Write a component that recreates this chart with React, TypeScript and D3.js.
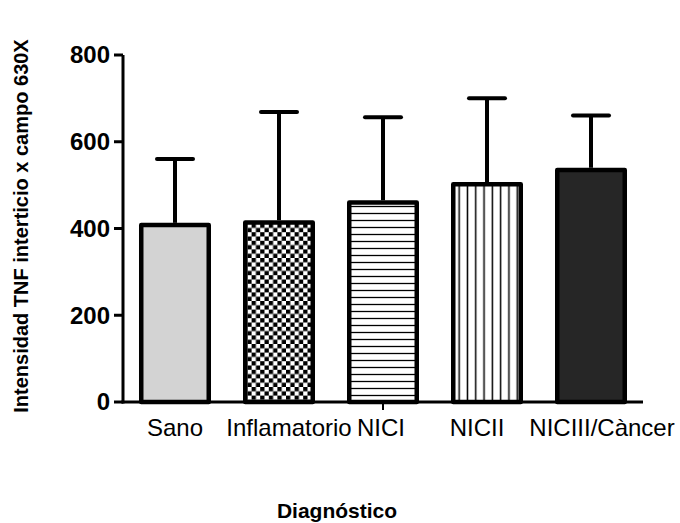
import React from "react";
import * as d3 from "d3";

const categories = ["Sano", "Inflamatorio", "NICI", "NICII", "NICIII/Càncer"];
const means = [413, 419, 465, 507, 540];
const errorTops = [565, 673, 661, 705, 665];
const fills = ["#d3d3d3", "url(#checker)", "url(#hlines)", "url(#vlines)", "#262626"];
const yTicks = [0, 200, 400, 600, 800];
const tickedCategories = ["NICI"];

const W = 680;
const H = 523;
const left = 123, right = 643, top = 55, bottom = 402;
const barStroke = 4.5;
// label nudges as Prism placed them (px)
const labelShift = [0, 10, -2, -10, 11];

export default function App() {
  const x = d3
    .scaleBand<string>()
    .domain(categories)
    .range([left, right])
    .paddingInner(0.3077)
    .paddingOuter(0.1538);
  const y = d3.scaleLinear().domain([0, 800]).range([bottom, top]);
  const bw = x.bandwidth();

  const font = "'Liberation Sans', Arial, Helvetica, sans-serif";

  return (
    <svg
      width={W}
      height={H}
      style={{ position: "absolute", left: 0, top: 0, background: "#fff" }}
      fontFamily={font}
    >
      <defs>
        <pattern id="checker" patternUnits="userSpaceOnUse" width={8.6} height={8.6} x={243} y={0}>
          <rect width={8.6} height={8.6} fill="#fff" />
          <rect width={4.3} height={4.3} fill="#000" />
          <rect x={4.3} y={4.3} width={4.3} height={4.3} fill="#000" />
        </pattern>
        <pattern id="hlines" patternUnits="userSpaceOnUse" width={10} height={7}>
          <rect width={10} height={7} fill="#fff" />
          <line x1={0} x2={10} y1={3.5} y2={3.5} stroke="#000" strokeWidth={1.3} />
        </pattern>
        <pattern id="vlines" patternUnits="userSpaceOnUse" width={8.3} height={10} x={455}>
          <rect width={8.3} height={10} fill="#fff" />
          <line x1={4.15} x2={4.15} y1={0} y2={10} stroke="#000" strokeWidth={1.5} />
        </pattern>
      </defs>

      {/* error bars */}
      {categories.map((c, i) => {
        const cx = (x(c) as number) + bw / 2;
        const capY = y(errorTops[i]) + 2;
        return (
          <g key={"e" + c} stroke="#000" strokeWidth={4}>
            <line x1={cx} x2={cx} y1={y(means[i])} y2={capY} />
            <line x1={cx - bw / 4} x2={cx + bw / 4} y1={capY} y2={capY} strokeLinecap="round" />
          </g>
        );
      })}

      {/* bars */}
      {categories.map((c, i) => (
        <rect
          key={c}
          x={(x(c) as number) + barStroke / 2}
          y={y(means[i]) + barStroke / 2}
          width={bw - barStroke}
          height={bottom - y(means[i]) - barStroke / 2}
          fill={fills[i]}
          stroke="#000"
          strokeWidth={barStroke}
          strokeLinejoin="round"
        />
      ))}

      {/* y axis */}
      <line x1={left} x2={left} y1={top} y2={bottom + 1.5} stroke="#000" strokeWidth={3} />
      {yTicks.map((t) => (
        <g key={t}>
          <line x1={left - 9} x2={left} y1={y(t)} y2={y(t)} stroke="#000" strokeWidth={3} />
          <text
            x={left - 13}
            y={y(t)}
            dy="0.35em"
            textAnchor="end"
            fontSize={24}
            fontWeight="bold"
          >
            {t}
          </text>
        </g>
      ))}

      {/* x axis */}
      <line x1={left - 1.5} x2={right} y1={bottom} y2={bottom} stroke="#000" strokeWidth={3} />
      {tickedCategories.map((c) => {
        const cx = (x(c) as number) + bw / 2;
        return <line key={"t" + c} x1={cx} x2={cx} y1={bottom} y2={bottom + 8} stroke="#000" strokeWidth={2} />;
      })}
      {categories.map((c, i) => (
        <text
          key={"l" + c}
          x={(x(c) as number) + bw / 2 + labelShift[i]}
          y={436}
          textAnchor="middle"
          fontSize={24}
        >
          {c}
        </text>
      ))}

      {/* titles */}
      <text
        transform={`translate(28, 226) rotate(-90)`}
        textAnchor="middle"
        fontSize={20}
        fontWeight="bold"
      >
        Intensidad TNF interticio x campo 630X
      </text>
      <text x={337} y={518} textAnchor="middle" fontSize={21} fontWeight="bold">
        Diagnóstico
      </text>
    </svg>
  );
}
